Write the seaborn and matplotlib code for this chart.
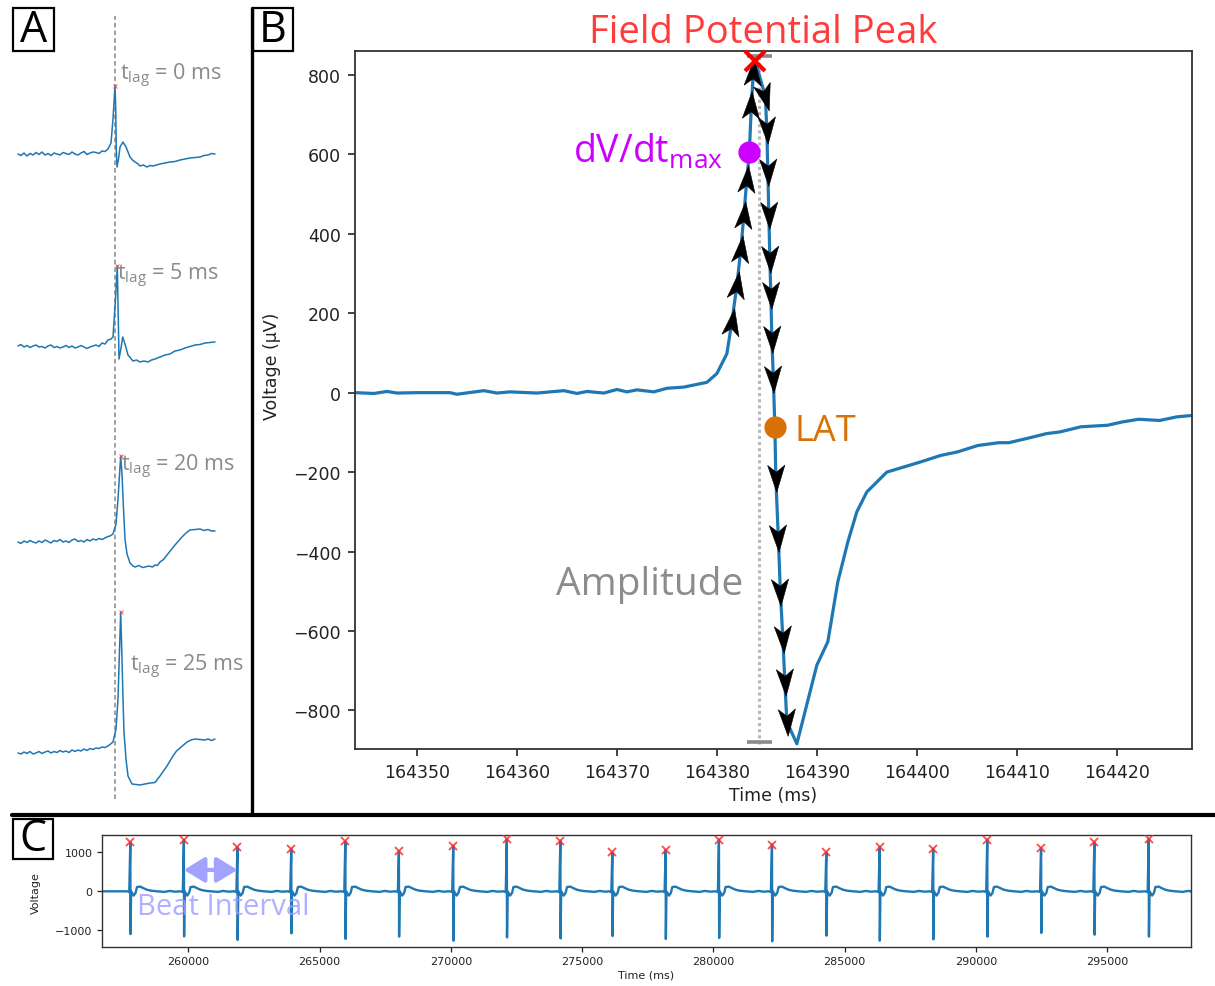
import numpy as np
import matplotlib
matplotlib.use('Agg')
import matplotlib.pyplot as plt
import seaborn as sns
from matplotlib.path import Path
from matplotlib.markers import MarkerStyle
from matplotlib.transforms import Affine2D, blended_transform_factory
from matplotlib.patches import Rectangle
from matplotlib.lines import Line2D

# ---------------- data ----------------
# panel A: one beat per lag, time (ms) from the reference line, voltage (uV) from baseline
lag_values = [0, 5, 20, 25]
a_time_0 = [-194, -188, -182, -176, -170, -164, -158, -152, -146, -140, -134, -128, -122, -116, -110,
            -104, -98, -92, -86, -80, -74, -68, -62, -56, -50, -44, -38, -32, -26, -20, -14, -8, -4, 0,
            1.5, 2.5, 4, 7, 10, 16, 22, 26, 30, 35, 40, 45, 50, 57, 64, 70, 76, 83, 90, 100,
            110, 120, 130, 140, 150, 160, 170, 178, 186, 193, 200]
a_volt_0 = [0, -15, 10, -20, 5, -10, 15, -5, 20, -10, 5, -15, 10, 0, -10,
            15, 5, -5, 20, 0, -10, 10, 25, -5, 10, 20, 15, 5, 30, 25, 50, 110, 350, 680,
            450, 50, -130, -50, 70, 120, 70, 20, -30, -60, -80, -95, -120, -110, -130, -115, -120, -110, -100, -90,
            -80, -75, -60, -50, -40, -35, -30, -15, -10, 5, 0]
a_time_5 = [-194, -188, -182, -176, -170, -164, -158, -152, -146, -140, -134, -128, -122, -116, -110,
            -104, -98, -92, -86, -80, -74, -68, -62, -56, -50, -44, -38, -32, -26, -20, -14, -8, -4, 1, 4.6,
            6.6, 8, 11, 15.4, 20, 26, 31, 36, 43, 50, 58, 66, 73, 80, 90, 100, 110, 120, 130, 140,
            150, 160, 170, 180, 190, 200]
a_volt_5 = [0, 15, -10, 5, -15, 0, 10, -10, -5, -20, 0, 10, -15, -5, -20,
            -10, 5, -15, 0, -20, -10, 5, -10, -25, -10, 0, 10, -5, 30, 20, 60, 70, 90, 470, 800,
            270, -130, -50, 90, 20, -90, -120, -150, -140, -160, -150, -160, -140, -130, -110, -90, -80, -50, -40, -20,
            -5, 10, 15, 30, 35, 40]
a_time_20 = [-194, -188, -182, -176, -170, -164, -158, -152, -146, -140, -134, -128, -122, -116, -110,
             -104, -98, -92, -86, -80, -74, -68, -62, -56, -50, -44, -38, -32, -26, -20, -14, -10, -4, 2, 6,
             11.4, 14, 17, 20, 24, 30, 36, 40, 48, 55, 60, 68, 75, 80, 85, 90, 97, 104, 112, 120,
             127, 134, 142, 150, 160, 170, 178, 186, 193, 200]
a_volt_20 = [0, -15, 10, -5, 15, 0, -10, 10, -5, 20, 5, -10, 15, 5, 25,
             0, 10, -5, 20, 30, 5, 15, 0, 25, 10, 30, 20, 35, 25, 40, 55, 60, 80, 180, 430,
             860, 680, 330, 30, -120, -210, -240, -250, -235, -255, -250, -240, -250, -230, -235, -200, -175, -130, -80, -30,
             10, 50, 90, 120, 125, 130, 115, 125, 110, 110]
a_time_25 = [-194, -188, -182, -176, -170, -164, -158, -152, -146, -140, -134, -128, -122, -116, -110,
             -104, -98, -92, -86, -80, -74, -68, -62, -56, -50, -44, -38, -32, -26, -20, -14, -10, -4, 2, 6,
             11.4, 14, 16, 18, 22, 26, 34, 42, 50, 60, 70, 80, 90, 97, 104, 110, 116, 123, 130, 137,
             144, 152, 160, 170, 180, 186, 193, 200]
a_volt_25 = [0, -10, 10, -5, 15, -10, 0, 15, -5, 10, 20, 0, 15, 5, 25,
             10, 20, 5, 30, 15, 30, 20, 40, 25, 45, 35, 50, 45, 60, 55, 70, 85, 110, 240, 540,
             1410, 940, 540, 210, -60, -230, -310, -315, -320, -310, -300, -295, -230, -180, -130, -80, -30, 20, 50, 80,
             110, 130, 140, 135, 130, 140, 125, 140]

# panel B: single field potential (ms, uV)
b_time = [164343.8, 164345.7, 164347.0, 164348.0, 164350.0, 164353.3, 164354.0, 164356.7,
          164358.0, 164359.3, 164362.0, 164364.7, 164366.0, 164367.0, 164368.7, 164370.0,
          164371.0, 164372.0, 164373.7, 164375.0, 164376.7, 164379.0, 164380.0, 164381.0,
          164381.5, 164382.0, 164382.4, 164382.7, 164383.0, 164383.25, 164383.45, 164383.65,
          164383.85, 164384.85, 164385.0, 164385.1, 164385.2, 164385.3, 164385.4, 164385.5,
          164385.65, 164385.8, 164385.9, 164386.15, 164386.35, 164386.6, 164386.8, 164387.0,
          164388.0, 164390.0, 164391.1, 164392.1, 164393.1, 164394.0, 164395.0, 164397.0,
          164400.3, 164402.4, 164404.1, 164406.1, 164408.2, 164409.2, 164410.9, 164413.0,
          164414.3, 164416.4, 164419.1, 164420.5, 164422.2, 164424.3, 164426.0, 164427.7]
b_volt = [0, -2, 3, -1, 0, 0, -4, 5,
          -1, 2, -1, 5, -2, 3, -1, 8,
          2, 7, 2, 11, 14, 26, 48, 98,
          178, 270, 362, 446, 538, 607, 723, 807,
          835, 745, 660, 555, 446, 337, 245, 136,
          35, -86, -216, -367, -501, -619, -728, -828,
          -884, -686, -627, -476, -376, -300, -250, -200,
          -175, -158, -149, -133, -126, -126, -116, -103,
          -99, -86, -82, -74, -67, -70, -61, -57]
dvdt_time = 164383.25
lat_time = 164385.8
arrow_start_time = 164381.5
amp_time = 164384.25

# panel C: beats of the recording
beat_times = [257790, 259830, 261870, 263920, 265980, 268020, 270090, 272130, 274170, 276150,
              278180, 280210, 282230, 284300, 286330, 288370, 290430, 292480, 294510, 296580]
beat_peaks = [1260, 1320, 1130, 1090, 1285, 1030, 1170, 1345, 1300, 1000,
              1060, 1330, 1200, 1000, 1130, 1090, 1330, 1110, 1260, 1345]
beat_troughs = [-1100, -1160, -1250, -1080, -1225, -1165, -1270, -1185, -1210, -1150,
                -1225, -1200, -1285, -1140, -1270, -1235, -1165, -1070, -1115, -1165]
# waveform around each spike (ms relative to spike, uV)
pre_offsets = [-120, -40]
pre_volts = [0, -20]
post_offsets = [30, 127, 200, 254, 380, 500, 635, 800, 1015, 1300, 1500, 1700]
post_volts = [0, -110, -40, 110, 120, 80, 40, 15, 0, -15, 10, -10]
c_xlim = (256700, 298190)

# ---------------- style ----------------
sns.set_theme(style='ticks')
plt.rcParams['font.family'] = ['DejaVu Sans']
plt.rcParams['mathtext.fontset'] = 'custom'
plt.rcParams['mathtext.rm'] = 'Open Sans'
plt.rcParams['mathtext.it'] = 'Open Sans'
plt.rcParams['mathtext.bf'] = 'Open Sans:bold'

blue = '#1f77b4'
W, H = 1215, 987
fig = plt.figure(figsize=(W / 100, H / 100), dpi=100)


def px_axes(left, top, right, bottom):
    return fig.add_axes([left / W, 1 - bottom / H, (right - left) / W, (bottom - top) / H])


# ---------------- panel A ----------------
ax_a = px_axes(15, 15, 235, 805)
a_traces = [(a_time_0, a_volt_0), (a_time_5, a_volt_5), (a_time_20, a_volt_20), (a_time_25, a_volt_25)]
a_offsets = [6500, 4580, 2620, 510]
a_label_pos = [(10, 750), (4, 670), (12, 713), (30, 823)]
ax_a.vlines(0, 50, 7880, colors='#888888', linestyles=(0, (3, 2)), lw=1.1, zorder=1)
for (t, v), off, lag, (lx, ly) in zip(a_traces, a_offsets, lag_values, a_label_pos):
    v = np.array(v) + off
    sns.lineplot(x=t, y=v, ax=ax_a, color=blue, lw=1.1, sort=False, estimator=None, zorder=2)
    k = int(np.argmax(v))
    ax_a.plot(t[k], v[k], marker='x', ms=3, mew=0.8, color='#ff4040', alpha=0.8, zorder=3)
    ax_a.text(lx, off + ly, r'$\mathrm{t_{lag}}$ = %d ms' % lag, fontsize=15.5,
              family='Open Sans', color='#8a8a8a', ha='left', va='baseline')
ax_a.set_xlim(-200, 240)
ax_a.set_ylim(0, 7900)
ax_a.axis('off')

# ---------------- panel B ----------------
ax_b = px_axes(355, 52, 1191.7, 750)
b_t = np.array(b_time)
b_v = np.array(b_volt)
sns.lineplot(x=b_t, y=b_v, ax=ax_b, color=blue, lw=2.3, sort=False, estimator=None, zorder=2)
ax_b.set_xlim(164343.8, 164427.5)
ax_b.set_ylim(-897, 860)

peak_i = int(np.argmax(b_v))
trough_i = int(np.argmin(b_v))
dvdt_i = int(np.argmin(np.abs(b_t - dvdt_time)))
lat_i = int(np.argmin(np.abs(b_t - lat_time)))
start_i = int(np.argmin(np.abs(b_t - arrow_start_time)))

# amplitude bar
ax_b.vlines(amp_time, b_v[trough_i], b_v[peak_i] + 12, colors='#b8b8b8', linestyles=(0, (1, 1)),
            lw=2.2, zorder=1)
ax_b.hlines([b_v[trough_i] + 5, b_v[peak_i] + 12], amp_time - 1.25, amp_time + 1.25,
            colors='#8a8a8a', lw=2.6, zorder=1)

# direction arrows along the trace
head = Path([(0, 1), (0.62, -0.95), (0, -0.45), (-0.62, -0.95), (0, 1)],
            [Path.MOVETO, Path.LINETO, Path.LINETO, Path.LINETO, Path.CLOSEPOLY])
disp = ax_b.transData.transform(np.column_stack([b_t, b_v]))
for i in range(start_i, trough_i):
    if i in (peak_i, dvdt_i, lat_i):
        continue
    dx, dy = disp[i] - disp[i - 1]
    ang = np.degrees(np.arctan2(dy, dx)) - 90
    ax_b.plot(b_t[i], b_v[i], marker=MarkerStyle(head, transform=Affine2D().rotate_deg(ang)),
              ms=20, color='black', mec='black', mew=0.4, zorder=3)

ax_b.plot(b_t[dvdt_i], b_v[dvdt_i], 'o', ms=16, color='#cc00ff', mec='none', zorder=4)
ax_b.plot(b_t[lat_i], b_v[lat_i], 'o', ms=16, color='#d97206', mec='none', zorder=4)
ax_b.plot(b_t[peak_i], b_v[peak_i], 'x', ms=14, mew=3, color='#ff0000', zorder=5, clip_on=False)

ax_b.annotate(r'dV/dt$_{\mathrm{max}}$', xy=(b_t[dvdt_i], b_v[dvdt_i]), xytext=(-19, -7),
              textcoords='offset points', ha='right', va='baseline', fontsize=27,
              family='Open Sans', color='#cc00ff')
ax_b.annotate('LAT', xy=(b_t[lat_i], b_v[lat_i]), xytext=(14, -9.5), textcoords='offset points',
              ha='left', va='baseline', fontsize=26, family='Open Sans', color='#d97206')
ax_b.annotate('Amplitude', xy=(amp_time, -508), xytext=(-11.5, 0), textcoords='offset points',
              ha='right', va='baseline', fontsize=28, family='Open Sans', color='#8c8c8c')
top_tr = blended_transform_factory(ax_b.transData, ax_b.transAxes)
ax_b.text(b_t[peak_i] + 0.75, 1.013, 'Field Potential Peak', transform=top_tr, ha='center',
          va='baseline', fontsize=27.5, family='Open Sans', color='#ff3c3c', clip_on=False)

b_xticks = list(range(164350, 164421, 10))
ax_b.set_xticks(b_xticks)
ax_b.set_xticklabels([str(x) for x in b_xticks])
ax_b.set_yticks(range(-800, 801, 200))
ax_b.tick_params(labelsize=12.5, length=5, width=1.2, colors='#222222', pad=5)
ax_b.set_xlabel('Time (ms)', fontsize=12.5, color='#222222', labelpad=4)
ax_b.set_ylabel('Voltage (µV)', fontsize=12.5, color='#222222')
ax_b.yaxis.set_label_coords(-0.088, 0.55)
for s in ax_b.spines.values():
    s.set_linewidth(1.3)
    s.set_color('#333333')

# ---------------- panel C ----------------
c_t = [c_xlim[0]]
c_v = [0]
for bt, bp, bq in zip(beat_times, beat_peaks, beat_troughs):
    c_t += [bt + o for o in pre_offsets] + [bt, bt + 8] + [bt + o for o in post_offsets]
    c_v += pre_volts + [bp, bq] + post_volts
c_t.append(c_xlim[1])
c_v.append(0)

ax_c = px_axes(101.7, 835.7, 1191, 947.7)
sns.lineplot(x=c_t, y=c_v, ax=ax_c, color=blue, lw=1.7, sort=False, estimator=None, zorder=2)
ax_c.plot(beat_times, beat_peaks, 'x', ms=6, mew=1.3, color='#ff2a2a', alpha=0.85, zorder=3)
ax_c.set_xlim(*c_xlim)
ax_c.set_ylim(-1424, 1455)
ax_c.annotate('', xy=(beat_times[2], 550), xytext=(beat_times[1], 550),
              arrowprops=dict(arrowstyle='<|-|>,head_length=0.9,head_width=0.55', color='#a3a3ff',
                              lw=3, shrinkA=0, shrinkB=0, mutation_scale=14), zorder=4)
ax_c.text(beat_times[0] + 250, -584, 'Beat Interval', fontsize=21, family='Open Sans',
          color='#9c9cff', alpha=0.8, ha='left', va='baseline', zorder=4)
c_xticks = list(range(260000, 295001, 5000))
ax_c.set_xticks(c_xticks)
ax_c.set_xticklabels([str(x) for x in c_xticks])
ax_c.set_yticks([-1000, 0, 1000])
ax_c.tick_params(labelsize=8, length=3.5, width=0.9, colors='#222222', pad=3)
ax_c.set_xlabel('Time (ms)', fontsize=8, color='#222222', labelpad=3)
ax_c.set_ylabel('Voltage', fontsize=8, color='#222222')
ax_c.yaxis.set_label_coords(-0.056, 0.49)
for s in ax_c.spines.values():
    s.set_linewidth(1.0)
    s.set_color('#333333')

# ---------------- panel frame and letters ----------------
fig.add_artist(Line2D([252 / W, 252 / W], [1 - 9 / H, 1 - 816 / H], transform=fig.transFigure,
                      color='black', lw=2.4))
fig.add_artist(Line2D([12 / W, 1.0], [1 - 816 / H, 1 - 816 / H], transform=fig.transFigure,
                      color='black', lw=3))
for letter, (x0, y0, x1, y1) in zip('ABC', [(13, 9, 54, 52), (253, 9, 293, 52), (13, 820, 53, 860)]):
    fig.add_artist(Rectangle((x0 / W, 1 - y1 / H), (x1 - x0) / W, (y1 - y0) / H,
                             transform=fig.transFigure, facecolor='white', edgecolor='black', lw=1.6))
    fig.text((x0 + x1) / 2 / W, 1 - (y0 + y1) / 2 / H, letter, ha='center', va='center',
             fontsize=31, family='Open Sans', color='black')

fig.savefig('out.png', dpi=100)
